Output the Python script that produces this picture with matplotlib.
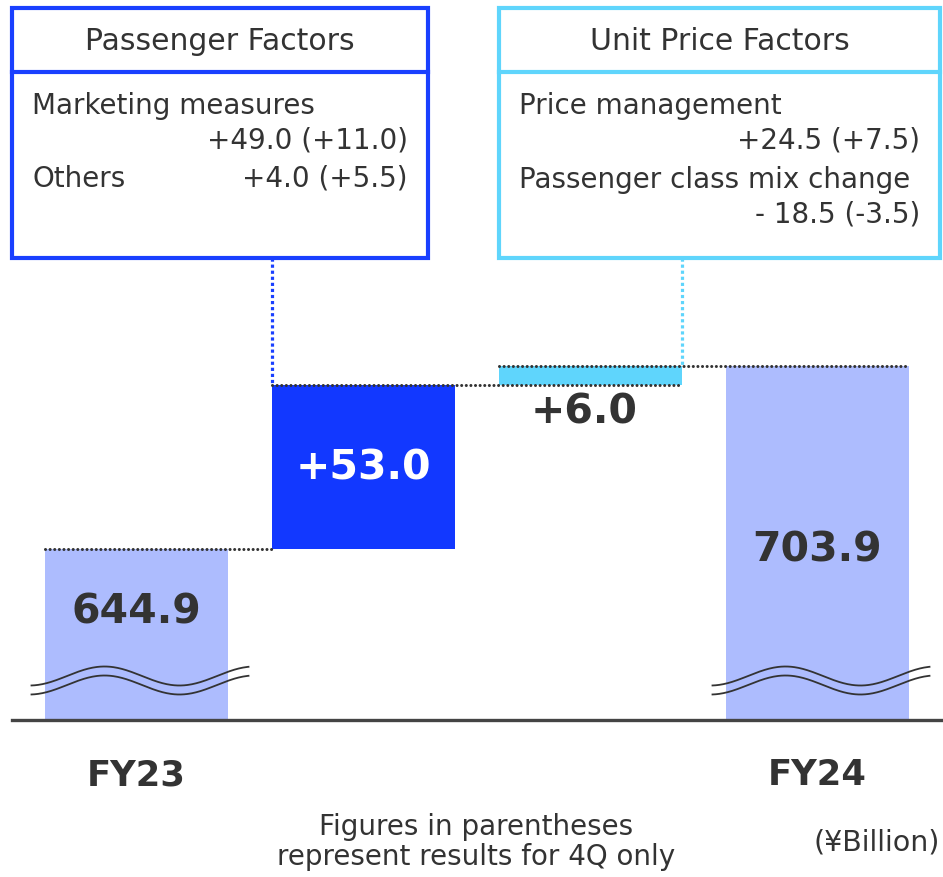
import numpy as np
import matplotlib
matplotlib.use("Agg")
import matplotlib.pyplot as plt
from matplotlib.patches import Rectangle

# data
labels = ["FY23", "FY24"]
start_val = 644.9
steps = [53.0, 6.0]
step_labels = ["+53.0", "+6.0"]
end_val = 703.9

pass_title = "Passenger Factors"
pass_items = ["Marketing measures", "Others"]
pass_vals = ["+49.0 (+11.0)", "+4.0 (+5.5)"]
price_title = "Unit Price Factors"
price_items = ["Price management", "Passenger class mix change"]
price_vals = ["+24.5 (+7.5)", "- 18.5 (-3.5)"]

W, H = 943, 877
DARK = "#333333"
LIGHT = "#adbcfe"
BLUE = "#1238ff"
CYAN = "#5fd5fc"
BOX_BLUE = "#1a40ff"
BOX_CYAN = "#5fd5fc"

# pixel <-> data helpers (axes spans whole figure)
ppu = 3.1          # pixels per unit
top_px = 549       # pixel row of start value
def v(p):
    return start_val + (top_px - p) / ppu

fig = plt.figure(figsize=(W / 100, H / 100), dpi=100)
ax = fig.add_axes([0, 0, 1, 1])
ax.set_xlim(-136.5 / 227, (W - 136.5) / 227)
ax.set_ylim(v(H), v(0))
ax.axis("off")

base = v(720)
w = 0.806
x = np.arange(4)

# bars
ax.bar(x[0], start_val - base, bottom=base, width=w, color=LIGHT, zorder=2)
cum = start_val
bar_cols = [BLUE, CYAN]
bottoms = []
for i, s in enumerate(steps):
    ax.bar(x[i + 1], s, bottom=cum, width=w, color=bar_cols[i], zorder=2)
    bottoms.append(cum)
    cum += s
ax.bar(x[3], end_val - base, bottom=base, width=w, color=LIGHT, zorder=2)

# baseline
ax.plot([(12 - 136.5) / 227, (W - 136.5) / 227], [base, base], color="#444444", lw=2.4, zorder=4)

# dotted connectors
dot = dict(color=DARK, lw=2.2, linestyle=(0, (0.01, 1.5)), dash_capstyle="round", zorder=3)
ax.plot([x[0] - w / 2, x[1] - w / 2], [start_val, start_val], **dot)
ax.plot([x[1] - w / 2, x[2] + w / 2], [bottoms[1], bottoms[1]], **dot)
ax.plot([x[2] - w / 2, x[3] + w / 2], [end_val, end_val], **dot)

box_bottom = v(258)
ax.plot([x[1] - w / 2] * 2, [box_bottom, start_val + steps[0]], color=BOX_BLUE, lw=2.3,
        linestyle=(0, (1, 0.9)), zorder=3)
ax.plot([x[2] + w / 2] * 2, [box_bottom, end_val], color=BOX_CYAN, lw=2.3,
        linestyle=(0, (1, 0.9)), zorder=3)

# value labels
big = 29.5
ax.text(x[0], v(612), f"{start_val:.1f}", ha="center", va="center", fontsize=big,
        fontweight="bold", color=DARK, zorder=5)
ax.text(x[1], v(468), step_labels[0], ha="center", va="center", fontsize=big,
        fontweight="bold", color="white", zorder=5)
ax.text(x[2] - 0.03, v(413), step_labels[1], ha="center", va="center", fontsize=big,
        fontweight="bold", color=DARK, zorder=5)
ax.text(x[3], v(551), f"{end_val:.1f}", ha="center", va="center", fontsize=big,
        fontweight="bold", color=DARK, zorder=5)

ax.text(x[0], v(775), labels[0], ha="center", va="center", fontsize=25.5,
        fontweight="bold", color=DARK)
ax.text(x[3], v(775), labels[1], ha="center", va="center", fontsize=25.5,
        fontweight="bold", color=DARK)

# axis break marks
def brk(xc):
    xs_px = np.linspace(-105, 112, 200)
    for off in (0, 9):
        ys = 676 - 9.5 * np.cos(2 * np.pi * (xs_px + 32) / 150) + off
        ax.plot(xc + xs_px / 227, v(ys), color=DARK, lw=1.3, zorder=4)
brk(x[0])
brk(x[3])

# overlay axes in pixel coords for boxes
ov = fig.add_axes([0, 0, 1, 1])
ov.set_xlim(0, W)
ov.set_ylim(H, 0)
ov.axis("off")
ov.patch.set_alpha(0)

def box(x0, x1, col, title):
    ov.add_patch(Rectangle((x0, 8), x1 - x0, 250, fill=False, ec=col, lw=3))
    ov.plot([x0, x1], [72, 72], color=col, lw=3)
    ov.text((x0 + x1) / 2, 42, title, ha="center", va="center", fontsize=21.5, color=DARK)

fs = 20
box(12, 428, BOX_BLUE, pass_title)
ov.text(32, 106, pass_items[0], ha="left", va="center", fontsize=fs, color=DARK)
ov.text(408, 141, pass_vals[0], ha="right", va="center", fontsize=fs, color=DARK)
ov.text(32, 179, pass_items[1], ha="left", va="center", fontsize=fs, color=DARK)
ov.text(408, 179, pass_vals[1], ha="right", va="center", fontsize=fs, color=DARK)

box(499, 940, BOX_CYAN, price_title)
ov.text(519, 106, price_items[0], ha="left", va="center", fontsize=fs, color=DARK)
ov.text(920, 141, price_vals[0], ha="right", va="center", fontsize=fs, color=DARK)
ov.text(519, 180, price_items[1], ha="left", va="center", fontsize=fs, color=DARK)
ov.text(920, 215, price_vals[1], ha="right", va="center", fontsize=fs, color=DARK)

ov.text(476, 842, "Figures in parentheses\nrepresent results for 4Q only", ha="center",
        va="center", fontsize=20, color=DARK, linespacing=1.1)
ov.text(940, 843, "(¥Billion)", ha="right", va="center", fontsize=20.5, color=DARK)

fig.savefig("out.png", dpi=100)
